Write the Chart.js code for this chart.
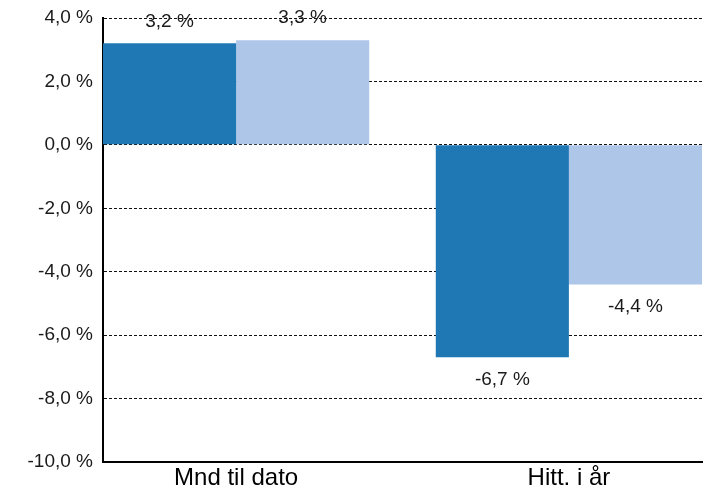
<!DOCTYPE html>
<html>
<head>
<meta charset="utf-8">
<script src="https://cdn.jsdelivr.net/npm/chart.js@4.4.1/dist/chart.umd.min.js"></script>
<style>
  html, body { margin: 0; padding: 0; background: #fff; }
  #wrap { width: 708px; height: 491px; position: relative; }
</style>
</head>
<body>
<div id="wrap"><canvas id="chart"></canvas></div>
<script>
// chart data
const categories = ['Mnd til dato', 'Hitt. i år'];
const seriesA = [3.2, -6.7];
const seriesB = [3.3, -4.4];
const yTicks = [-10, -8, -6, -4, -2, 0, 2, 4];

const fmt = v => v.toFixed(1).replace('.', ',') + ' %';

// draws the value text above / below each bar
const valueLabels = {
    id: 'valueLabels',
    afterDatasetsDraw(chart) {
        const ctx = chart.ctx;
        ctx.save();
        ctx.font = '19px "Liberation Sans", Arial, sans-serif';
        ctx.fillStyle = '#1a1a1a';
        ctx.textAlign = 'center';
        ctx.textBaseline = 'middle';
        chart.data.datasets.forEach((ds, i) => {
            chart.getDatasetMeta(i).data.forEach((bar, j) => {
                const v = ds.data[j].y;
                const y = v >= 0 ? bar.y - 22 : bar.y + 22;
                ctx.fillText(fmt(v), bar.x, y);
            });
        });
        ctx.restore();
    }
};

new Chart(document.getElementById('chart'), {
    type: 'bar',
    data: {
        datasets: [
            {
                data: seriesA.map((v, i) => ({ x: i, y: v })),
                backgroundColor: '#1f77b4'
            },
            {
                data: seriesB.map((v, i) => ({ x: i, y: v })),
                backgroundColor: '#aec7e8'
            }
        ]
    },
    options: {
        responsive: true,
        maintainAspectRatio: false,
        animation: false,
        categoryPercentage: 0.8,
        barPercentage: 1.0,
        layout: { padding: { top: 18, right: 6, left: 0, bottom: 0 } },
        plugins: {
            legend: { display: false },
            tooltip: { enabled: false }
        },
        scales: {
            x: {
                type: 'linear',
                offset: false,
                min: -0.4,
                max: 1.4,
                afterBuildTicks: scale => {
                    scale.ticks = categories.map((c, i) => ({ value: i }));
                },
                afterFit: scale => {
                    scale.height = 29;
                    scale.paddingLeft = 0;
                    scale.paddingRight = 0;
                },
                grid: { display: false, drawTicks: false },
                border: { display: true, color: '#000', width: 2 },
                ticks: {
                    padding: 2,
                    color: '#000',
                    font: { size: 24, family: '"Liberation Sans", Arial, sans-serif' },
                    callback: v => categories[v] ?? ''
                }
            },
            y: {
                min: -10,
                max: 4,
                afterBuildTicks: scale => {
                    scale.ticks = yTicks.map(v => ({ value: v }));
                },
                afterFit: scale => {
                    scale.width = 103;
                    scale.paddingTop = 0;
                    scale.paddingBottom = 0;
                },
                grid: {
                    color: '#111',
                    lineWidth: 1,
                    drawTicks: false
                },
                border: { display: true, color: '#000', width: 2, dash: [3, 2] },
                ticks: {
                    padding: 10,
                    color: '#1a1a1a',
                    font: { size: 19, family: '"Liberation Sans", Arial, sans-serif' },
                    callback: v => fmt(v)
                }
            }
        }
    },
    plugins: [valueLabels]
});
</script>
</body>
</html>
